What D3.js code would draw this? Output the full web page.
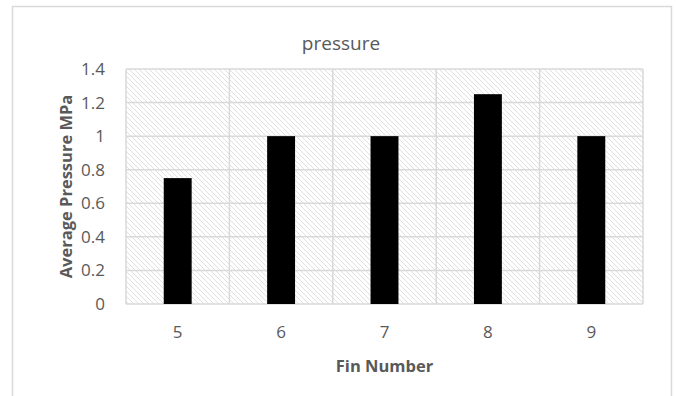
<!DOCTYPE html>
<html>
<head>
<meta charset="utf-8">
<script src="https://cdn.jsdelivr.net/npm/d3@7"></script>
<style>
  body { margin: 0; background: #fff; }
  svg { display: block; font-family: "Open Sans", sans-serif; }
</style>
</head>
<body>
<svg id="chart"></svg>
<script>
const finNumbers = ["5", "6", "7", "8", "9"];
const avgPressure = [0.75, 1, 1, 1.25, 1];
const yTicks = [0, 0.2, 0.4, 0.6, 0.8, 1, 1.2, 1.4];

const width = 676;
const height = 396;
const margin = { top: 69, right: 33, bottom: 92, left: 126 };

const svg = d3.select("#chart")
  .attr("width", width)
  .attr("height", height);

// hatched plot background
const defs = svg.append("defs");
defs.append("pattern")
  .attr("id", "hatch")
  .attr("patternUnits", "userSpaceOnUse")
  .attr("width", 5)
  .attr("height", 5)
  .append("path")
  .attr("d", "M-1,-1 L6,6 M-3,2 L1,6 M2,-3 L6,1")
  .attr("stroke", "#e0e0e0")
  .attr("stroke-width", 1);

// chart area border
svg.append("rect")
  .attr("x", 12.5)
  .attr("y", 6.5)
  .attr("width", 659)
  .attr("height", 420)
  .attr("fill", "none")
  .attr("stroke", "#d9d9d9")
  .attr("stroke-width", 1.5);

const x = d3.scaleBand()
  .domain(finNumbers)
  .range([margin.left, width - margin.right])
  .paddingInner(0.73)
  .paddingOuter(0.365);

const y = d3.scaleLinear()
  .domain([0, 1.4])
  .range([height - margin.bottom, margin.top]);

const x0 = margin.left, x1 = width - margin.right;

svg.append("rect")
  .attr("x", x0)
  .attr("y", y(1.4))
  .attr("width", x1 - x0)
  .attr("height", y(0) - y(1.4))
  .attr("fill", "url(#hatch)");

// horizontal gridlines
svg.append("g")
  .selectAll("line")
  .data(yTicks)
  .join("line")
  .attr("x1", x0)
  .attr("x2", x1)
  .attr("y1", d => y(d))
  .attr("y2", d => y(d))
  .attr("stroke", "#d9d9d9")
  .attr("stroke-width", 1.5);

// vertical gridlines at category boundaries
const step = (x1 - x0) / finNumbers.length;
svg.append("g")
  .selectAll("line")
  .data(d3.range(finNumbers.length + 1))
  .join("line")
  .attr("x1", i => x0 + i * step)
  .attr("x2", i => x0 + i * step)
  .attr("y1", y(1.4))
  .attr("y2", y(0))
  .attr("stroke", "#d9d9d9")
  .attr("stroke-width", 1.5);

// bars
svg.append("g")
  .selectAll("rect")
  .data(avgPressure)
  .join("rect")
  .attr("x", (d, i) => x(finNumbers[i]))
  .attr("y", d => y(d))
  .attr("width", x.bandwidth())
  .attr("height", d => y(0) - y(d))
  .attr("fill", "#000");

// y tick labels
svg.append("g")
  .selectAll("text")
  .data(yTicks)
  .join("text")
  .attr("x", 105)
  .attr("y", d => y(d))
  .attr("dy", "0.35em")
  .attr("text-anchor", "end")
  .attr("font-size", 17)
  .attr("fill", "#595959")
  .text(d => d);

// x tick labels
svg.append("g")
  .selectAll("text")
  .data(finNumbers)
  .join("text")
  .attr("x", d => x(d) + x.bandwidth() / 2)
  .attr("y", 332)
  .attr("dy", "0.35em")
  .attr("text-anchor", "middle")
  .attr("font-size", 17)
  .attr("fill", "#595959")
  .text(d => d);

// title
svg.append("text")
  .attr("x", 341)
  .attr("y", 43)
  .attr("dy", "0.35em")
  .attr("text-anchor", "middle")
  .attr("font-size", 19)
  .attr("fill", "#595959")
  .text("pressure");

// axis titles
svg.append("text")
  .attr("x", (x0 + x1) / 2)
  .attr("y", 366)
  .attr("dy", "0.35em")
  .attr("text-anchor", "middle")
  .attr("font-size", 16.5)
  .attr("font-weight", "bold")
  .attr("fill", "#595959")
  .text("Fin Number");

svg.append("text")
  .attr("transform", `translate(66,${(y(0) + y(1.4)) / 2}) rotate(-90)`)
  .attr("dy", "0.35em")
  .attr("text-anchor", "middle")
  .attr("font-size", 16.5)
  .attr("font-weight", "bold")
  .attr("fill", "#595959")
  .text("Average Pressure MPa");
</script>
</body>
</html>
